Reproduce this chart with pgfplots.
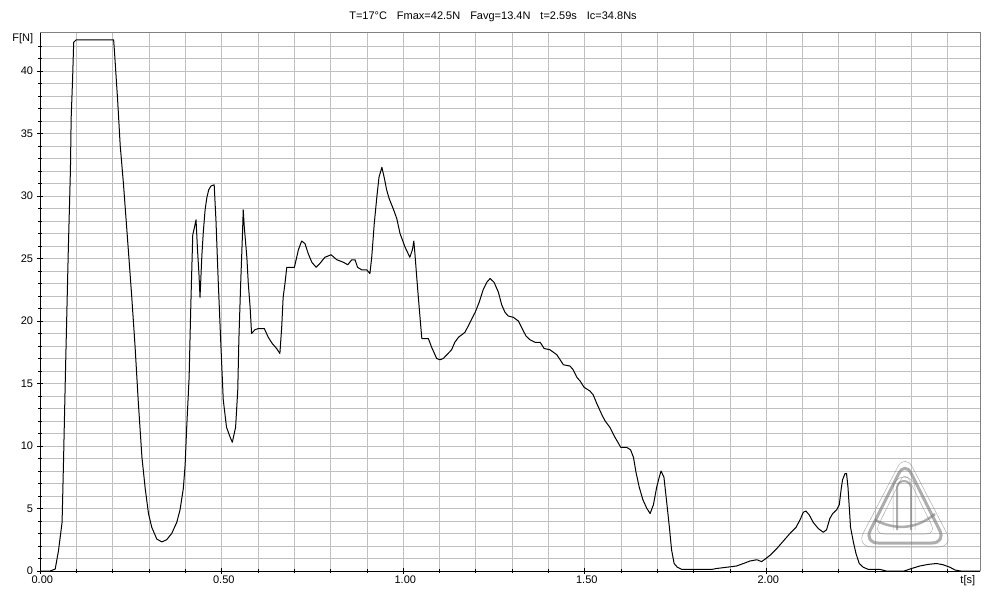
\documentclass[border=0pt]{standalone}
\usepackage{fontspec}
\setmainfont{Liberation Sans}
\usepackage{pgfplots}
\pgfplotsset{compat=1.18}
\definecolor{gridgray}{RGB}{192,192,192}
\definecolor{framegray}{RGB}{128,128,128}
\definecolor{wmgray}{RGB}{120,120,120}
\begin{document}
\begin{tikzpicture}[x=1pt,y=1pt,font=\fontsize{11}{13}\selectfont]
\path[use as bounding box] (0,0) rectangle (1000,600);
\begin{axis}[
  at={(40.3pt,29pt)}, anchor=south west,
  scale only axis, width=939.7pt, height=538.7pt,
  xmin=0, xmax=2.5887, ymin=0, ymax=43.1,
  axis lines*=left,
  axis line style={-, black, line width=1pt},
  xtick={0,0.5,1,1.5,2},
  minor xtick={0.1,0.2,0.3,0.4,0.6,0.7,0.8,0.9,1.1,1.2,1.3,1.4,1.6,1.7,1.8,1.9,2.1,2.2,2.3,2.4,2.5},
  ytick={0,5,10,15,20,25,30,35,40},
  minor ytick={1,2,3,4,6,7,8,9,11,12,13,14,16,17,18,19,21,22,23,24,26,27,28,29,31,32,33,34,36,37,38,39,41,42},
  grid=both,
  major grid style={gridgray, line width=1pt},
  minor grid style={gridgray, line width=1pt},
  tick align=center,
  major tick length=6pt, minor tick length=4pt,
  every tick/.style={black, line width=1pt},
  /pgf/number format/assume math mode=true,
  xticklabel style={/pgf/number format/fixed, /pgf/number format/precision=2, /pgf/number format/fixed zerofill, inner sep=1pt, yshift=-1pt, xshift=2pt},
  yticklabel style={inner sep=1pt, xshift=-3pt},
  xlabel={t[s]},
  xlabel style={at={(rel axis cs:0.987,0)}, anchor=north, inner sep=0pt, yshift=-4pt},
  ylabel={F[N]},
  ylabel style={at={(rel axis cs:0,0.9876)}, rotate=-90, anchor=east, inner sep=0pt, xshift=-7pt},
  clip=false,
]
\addplot[black, line width=1pt, line join=round] coordinates {
(0,0) (0.027,0) (0.041,0.15) (0.050,1.6) (0.060,3.9) (0.064,8.8) (0.069,15.5) (0.073,20.5) (0.077,25.5) (0.083,32.1) (0.085,36.2) (0.089,39.4) (0.092,42.3) (0.099,42.5) (0.202,42.5) (0.204,41.7) (0.213,37.7) (0.220,34.1) (0.229,31.0) (0.243,25.5) (0.252,21.9) (0.261,18.0) (0.270,13.5) (0.280,9.1) (0.289,6.6) (0.298,4.6) (0.307,3.5) (0.321,2.55) (0.335,2.33) (0.348,2.5) (0.362,3.0) (0.376,3.9) (0.385,4.9) (0.394,6.6) (0.399,8.5) (0.403,11.3) (0.410,15.5) (0.414,20.5) (0.417,23.8) (0.420,26.9) (0.424,27.4) (0.429,28.1) (0.433,25.75) (0.437,23.8) (0.440,21.9) (0.445,25.2) (0.449,27.1) (0.454,28.9) (0.459,29.9) (0.464,30.5) (0.470,30.8) (0.479,30.9) (0.484,28.0) (0.490,23.3) (0.498,17.7) (0.504,13.7) (0.513,11.5) (0.523,10.7) (0.529,10.3) (0.538,11.5) (0.544,14.5) (0.547,18.5) (0.552,23.0) (0.557,27.0) (0.559,28.9) (0.562,27.5) (0.569,25.1) (0.573,23.0) (0.578,21.1) (0.582,19.0) (0.591,19.3) (0.601,19.4) (0.617,19.4) (0.628,18.7) (0.639,18.2) (0.651,17.8) (0.660,17.4) (0.665,19.5) (0.669,21.9) (0.674,23.0) (0.679,24.3) (0.700,24.3) (0.711,25.7) (0.720,26.4) (0.729,26.2) (0.738,25.4) (0.748,24.7) (0.760,24.3) (0.770,24.6) (0.784,25.1) (0.801,25.3) (0.817,24.9) (0.835,24.7) (0.847,24.5) (0.858,24.9) (0.867,24.9) (0.874,24.3) (0.885,24.1) (0.899,24.1) (0.908,23.8) (0.913,25.1) (0.920,27.8) (0.927,29.9) (0.933,31.5) (0.941,32.3) (0.948,31.4) (0.954,30.5) (0.961,29.8) (0.972,29.0) (0.982,28.2) (0.991,27.0) (1.005,25.9) (1.018,25.1) (1.025,25.7) (1.029,26.4) (1.032,25.4) (1.037,23.5) (1.042,21.7) (1.046,20.3) (1.051,18.6) (1.069,18.6) (1.078,17.9) (1.092,17.0) (1.101,16.9) (1.110,17.0) (1.120,17.3) (1.133,17.7) (1.142,18.3) (1.152,18.7) (1.170,19.1) (1.184,19.9) (1.198,20.7) (1.209,21.5) (1.220,22.5) (1.230,23.1) (1.239,23.4) (1.250,23.1) (1.262,22.3) (1.271,21.3) (1.280,20.7) (1.289,20.4) (1.303,20.3) (1.317,20.0) (1.329,19.3) (1.338,18.8) (1.349,18.5) (1.363,18.3) (1.377,18.3) (1.388,17.8) (1.404,17.7) (1.423,17.3) (1.432,16.9) (1.441,16.5) (1.459,16.4) (1.468,16.1) (1.478,15.5) (1.487,15.2) (1.498,14.7) (1.514,14.4) (1.523,14.1) (1.533,13.4) (1.547,12.5) (1.556,12.0) (1.569,11.5) (1.583,10.7) (1.599,9.9) (1.615,9.9) (1.626,9.7) (1.634,9.1) (1.641,7.9) (1.650,6.7) (1.660,5.7) (1.671,5.0) (1.680,4.6) (1.689,5.3) (1.698,6.7) (1.705,7.5) (1.710,8.0) (1.718,7.5) (1.726,5.4) (1.733,3.5) (1.739,1.7) (1.746,0.6) (1.755,0.3) (1.767,0.13) (1.850,0.13) (1.863,0.2) (1.882,0.27) (1.905,0.35) (1.918,0.4) (1.937,0.6) (1.955,0.8) (1.974,0.9) (1.987,0.75) (1.999,1.0) (2.012,1.3) (2.029,1.8) (2.047,2.4) (2.065,3.0) (2.082,3.5) (2.093,4.1) (2.102,4.7) (2.109,4.8) (2.118,4.5) (2.129,3.9) (2.143,3.4) (2.157,3.1) (2.166,3.3) (2.175,4.2) (2.183,4.6) (2.194,4.9) (2.201,5.3) (2.206,6.5) (2.210,7.3) (2.217,7.8) (2.221,7.8) (2.225,6.7) (2.229,4.9) (2.232,3.5) (2.240,2.3) (2.247,1.4) (2.256,0.6) (2.267,0.3) (2.281,0.13) (2.313,0.13) (2.33,0) (2.38,0) (2.400,0.2) (2.423,0.4) (2.446,0.53) (2.469,0.6) (2.487,0.5) (2.506,0.3) (2.520,0.08) (2.535,0) (2.5887,0)
};
\draw[framegray, line width=1pt] (rel axis cs:0,1) -- (rel axis cs:1,1) -- (rel axis cs:1,0);
\draw[black, line width=1pt] (rel axis cs:0,0) -- (rel axis cs:1,0);
\end{axis}
% title
\node[anchor=center, inner sep=0pt] at (493,583) {T=17°C\hspace{10pt}Fmax=42.5N\hspace{10pt}Favg=13.4N\hspace{10pt}t=2.59s\hspace{10pt}Ic=34.8Ns};
% watermark
\begin{scope}[wmgray, opacity=0.6]
\draw[line width=3pt, rounded corners=14pt] (905,139) -- (946,57) -- (864,57) -- cycle;
\draw[line width=0.5pt, rounded corners=16pt] (905,147) -- (954,53) -- (856,53) -- cycle;
\draw[line width=0.5pt, rounded corners=10pt] (905,129) -- (936,66) -- (874,66) -- cycle;
\draw[line width=2pt] (897,70) -- (897,112) arc (180:0:7) -- (911,70);
\draw[line width=0.5pt] (893,70) -- (893,112) arc (180:0:11) -- (915,70);
\draw[line width=2.5pt] (875,80) .. controls (895,70) and (915,70) .. (935,86);
\end{scope}
\end{tikzpicture}
\end{document}
